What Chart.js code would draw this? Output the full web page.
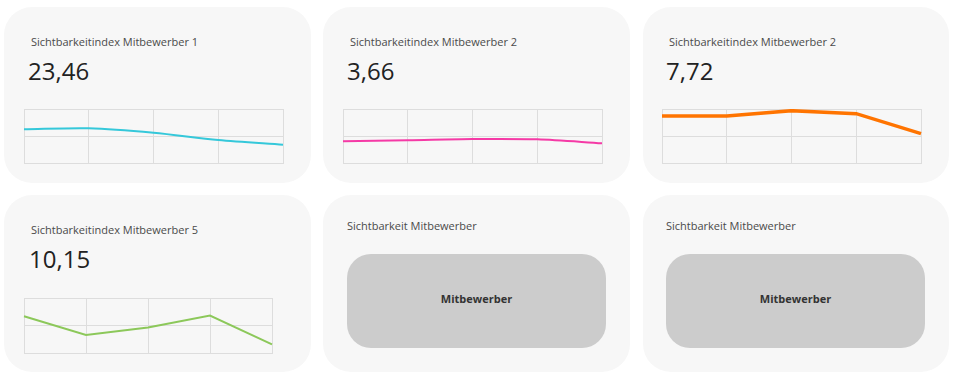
<!DOCTYPE html>
<html>
<head>
<meta charset="utf-8">
<script src="https://cdn.jsdelivr.net/npm/chart.js@4/dist/chart.umd.min.js"></script>
<style>
  html, body { margin: 0; padding: 0; background: #ffffff; width: 960px; height: 377px; overflow: hidden; font-family: "Open Sans", sans-serif; }
  .card { position: absolute; background: #f7f7f7; border-radius: 28px; }
  .title { position: absolute; font-size: 11px; line-height: 1; color: #4a4a4a; white-space: nowrap; }
  .value { position: absolute; font-size: 24px; line-height: 1; color: #222; white-space: nowrap; }
  .chartbox { position: absolute; }
  .ph { position: absolute; box-sizing: border-box; padding-bottom: 6px; background: #cccccc; border-radius: 24px; display: flex; align-items: center; justify-content: center; font-size: 11px; font-weight: 700; color: #333; }
</style>
</head>
<body>
<script>
// ---- data ----
const periods = ["P1", "P2", "P3", "P4", "P5"];
const titles = ["Sichtbarkeitindex Mitbewerber 1", "Sichtbarkeitindex Mitbewerber 2", "Sichtbarkeitindex Mitbewerber 2", "Sichtbarkeitindex Mitbewerber 5"];
const currentValues = ["23,46", "3,66", "7,72", "10,15"];
const series1 = [62.4, 64.3, 56.1, 42.6, 33.9];
const series2 = [40.2, 42.0, 44.4, 43.8, 36.4];
const series3 = [87.0, 87.0, 96.9, 91.3, 54.3];
const series4 = [66.7, 32.7, 46.2, 68.0, 15.8];
const placeholderTitle = "Sichtbarkeit Mitbewerber";
const placeholderLabel = "Mitbewerber";
const yRange = [0, 100];

// ---- layout ----
const cards = [
  { x: 4,   y: 7,   w: 307, h: 176 },
  { x: 323, y: 7,   w: 307, h: 176 },
  { x: 643, y: 7,   w: 306, h: 176 },
  { x: 4,   y: 195, w: 307, h: 177 },
  { x: 323, y: 195, w: 307, h: 177 },
  { x: 643, y: 195, w: 306, h: 177 }
];
const sparks = [
  { data: series1, color: "#35c8da", width: 2,   tension: 0.3, title: [31, 36],  value: [28, 59],  area: [24, 109, 259, 54] },
  { data: series2, color: "#f53aa6", width: 2,   tension: 0.3, title: [350, 36], value: [347, 59], area: [343, 109, 259, 54] },
  { data: series3, color: "#ff7400", width: 3.5, tension: 0,   title: [669, 36], value: [666, 59], area: [662, 109, 259, 54] },
  { data: series4, color: "#8cc85a", width: 2,   tension: 0,   title: [31, 224], value: [29, 247], area: [24, 298, 248, 55] }
];

function el(cls, css, text) {
  const d = document.createElement("div");
  d.className = cls;
  Object.assign(d.style, css);
  if (text !== undefined) d.textContent = text;
  document.body.appendChild(d);
  return d;
}

cards.forEach(c => el("card", { left: c.x + "px", top: c.y + "px", width: c.w + "px", height: c.h + "px" }));

const pad = 3;
sparks.forEach((s, i) => {
  el("title", { left: s.title[0] + "px", top: s.title[1] + "px" }, titles[i]);
  el("value", { left: s.value[0] + "px", top: s.value[1] + "px" }, currentValues[i]);
  const [ax, ay, aw, ah] = s.area;
  const box = el("chartbox", { left: (ax - pad) + "px", top: (ay - pad) + "px", width: (aw + 2 * pad) + "px", height: (ah + 2 * pad) + "px" });
  const cv = document.createElement("canvas");
  box.appendChild(cv);
  new Chart(cv, {
    type: "line",
    data: {
      labels: periods,
      datasets: [{
        data: s.data,
        borderColor: s.color,
        borderWidth: s.width,
        pointRadius: 0,
        tension: s.tension,
        fill: false
      }]
    },
    options: {
      responsive: true,
      maintainAspectRatio: false,
      animation: false,
      layout: { padding: pad },
      plugins: { legend: { display: false }, tooltip: { enabled: false } },
      scales: {
        x: {
          offset: false,
          grid: { color: "#dddddd", lineWidth: 1, drawTicks: false },
          border: { display: true, color: "#dddddd" },
          ticks: { display: false }
        },
        y: {
          min: yRange[0], max: yRange[1],
          grid: { color: "#dddddd", lineWidth: 1, drawTicks: false },
          border: { display: true, color: "#dddddd" },
          ticks: { display: false, stepSize: 50 }
        }
      }
    }
  });
});

[[347, 220, 347, 254], [666, 220, 666, 254]].forEach(p => {
  el("title", { left: p[0] + "px", top: p[1] + "px" }, placeholderTitle);
  el("ph", { left: p[2] + "px", top: p[3] + "px", width: "259px", height: "94px" }, placeholderLabel);
});
</script>
</body>
</html>
